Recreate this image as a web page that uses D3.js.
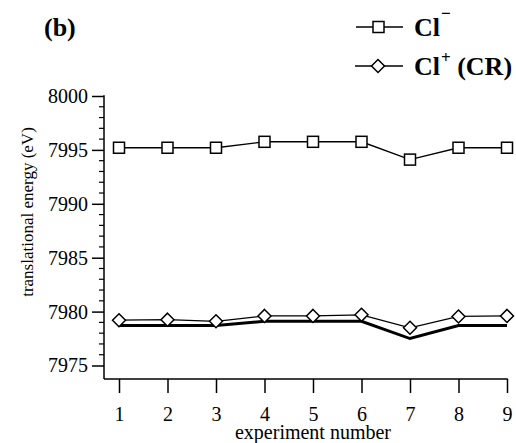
<!DOCTYPE html>
<html>
<head>
<meta charset="utf-8">
<script src="https://cdn.jsdelivr.net/npm/d3@7"></script>
<style>
  html, body { margin: 0; padding: 0; background: #fff; }
  svg { display: block; }
</style>
</head>
<body>
<svg id="chart" width="516" height="443"></svg>
<script>
// Experiment numbers along the x axis
const experiments = [1, 2, 3, 4, 5, 6, 7, 8, 9];
// Translational energy (eV) of the Cl− beam
const clMinus = [7995.2, 7995.2, 7995.2, 7995.75, 7995.75, 7995.75, 7994.1, 7995.2, 7995.2];
// Translational energy (eV) of Cl+ from charge reversal
const clPlusCR = [7979.2, 7979.25, 7979.1, 7979.6, 7979.6, 7979.7, 7978.5, 7979.55, 7979.6];
// Reference curve drawn as a heavy line without markers
const reference = [7978.7, 7978.7, 7978.7, 7979.1, 7979.1, 7979.1, 7977.5, 7978.7, 7978.7];
// Axis ticks
const yMajorTicks = [7975, 7980, 7985, 7990, 7995, 8000];
const yMinorTicks = d3.range(7975, 8001, 1);

const FONT = "Liberation Serif";
const svg = d3.select("#chart");

const x = d3.scaleLinear().domain([1, 9]).range([119, 507]);
const y = d3.scaleLinear().domain([7975, 8000]).range([365.5, 96]);
const axisX = 104, axisY = 379;

// Y axis: major ticks with labels, then minor ticks
const yAxis = d3.axisLeft(y).tickValues(yMajorTicks).tickSize(12).tickPadding(4)
  .tickFormat(d3.format("d"));
const gy = svg.append("g").attr("transform", `translate(${axisX},0)`).call(yAxis)
  .attr("font-family", FONT);
gy.select(".domain").remove();
gy.selectAll(".tick line").attr("stroke", "#000").attr("stroke-width", 1.5);
gy.selectAll(".tick text").attr("font-size", 20).attr("fill", "#000")
  .attr("font-family", FONT);
svg.append("g").selectAll("line").data(yMinorTicks.filter(v => v % 5 !== 0)).join("line")
  .attr("x1", axisX - 5).attr("x2", axisX)
  .attr("y1", d => y(d)).attr("y2", d => y(d))
  .attr("stroke", "#000").attr("stroke-width", 1.2);
svg.append("line").attr("x1", axisX).attr("x2", axisX)
  .attr("y1", y(8000) - 0.75).attr("y2", axisY)
  .attr("stroke", "#000").attr("stroke-width", 1.5);

// X axis with downward ticks
const xAxis = d3.axisBottom(x).tickValues(experiments).tickSize(14).tickPadding(14)
  .tickFormat(d3.format("d"));
const gx = svg.append("g").attr("transform", `translate(0,${axisY})`).call(xAxis)
  .attr("font-family", FONT);
gx.select(".domain").remove();
gx.selectAll(".tick line").attr("stroke", "#000").attr("stroke-width", 1.5);
gx.selectAll(".tick text").attr("font-size", 20).attr("fill", "#000")
  .attr("font-family", FONT);
svg.append("line").attr("x1", axisX).attr("x2", x(9) + 0.75)
  .attr("y1", axisY).attr("y2", axisY)
  .attr("stroke", "#000").attr("stroke-width", 1.5);

// Axis titles
svg.append("text").attr("x", 313).attr("y", 438.5).attr("text-anchor", "middle")
  .attr("font-family", FONT).attr("font-size", 20).text("experiment number");
svg.append("text").attr("transform", "translate(33,212) rotate(-90)")
  .attr("text-anchor", "middle").attr("font-family", FONT).attr("font-size", 17)
  .text("translational energy (eV)");

// Panel label
svg.append("text").attr("x", 44).attr("y", 36).attr("font-family", FONT)
  .attr("font-size", 26).attr("font-weight", "bold").text("(b)");

const line = d3.line().x((d, i) => x(experiments[i])).y(d => y(d));

// Heavy reference line
svg.append("path").datum(reference).attr("d", line)
  .attr("fill", "none").attr("stroke", "#000").attr("stroke-width", 3);

// Cl+ (CR) series with diamonds
svg.append("path").datum(clPlusCR).attr("d", line)
  .attr("fill", "none").attr("stroke", "#000").attr("stroke-width", 1.3);
const diamond = s => `M0,${-s}L${s},0L0,${s}L${-s},0Z`;
svg.append("g").selectAll("path").data(clPlusCR).join("path")
  .attr("transform", (d, i) => `translate(${x(experiments[i])},${y(d)})`)
  .attr("d", diamond(6.5)).attr("fill", "#fff").attr("stroke", "#000").attr("stroke-width", 1.5);

// Cl− series with squares
svg.append("path").datum(clMinus).attr("d", line)
  .attr("fill", "none").attr("stroke", "#000").attr("stroke-width", 1.4);
svg.append("g").selectAll("rect").data(clMinus).join("rect")
  .attr("x", (d, i) => x(experiments[i]) - 5.5).attr("y", d => y(d) - 5.5)
  .attr("width", 11).attr("height", 11)
  .attr("fill", "#fff").attr("stroke", "#000").attr("stroke-width", 1.5);

// Legend
const legend = svg.append("g").attr("font-family", FONT);
legend.append("line").attr("x1", 356).attr("x2", 403).attr("y1", 27).attr("y2", 27)
  .attr("stroke", "#000").attr("stroke-width", 1.4);
legend.append("rect").attr("x", 373).attr("y", 21.5).attr("width", 11).attr("height", 11)
  .attr("fill", "#fff").attr("stroke", "#000").attr("stroke-width", 1.5);
const t1 = legend.append("text").attr("x", 414).attr("y", 36)
  .attr("font-size", 26).attr("font-weight", "bold");
t1.append("tspan").text("Cl");
t1.append("tspan").attr("dx", 1).attr("dy", -17).attr("font-size", 17).text("\u2212");

legend.append("line").attr("x1", 355).attr("x2", 403).attr("y1", 66).attr("y2", 66)
  .attr("stroke", "#000").attr("stroke-width", 1.4);
legend.append("path").attr("transform", "translate(378,66)").attr("d", diamond(6.5))
  .attr("fill", "#fff").attr("stroke", "#000").attr("stroke-width", 1.5);
const t2 = legend.append("text").attr("x", 414).attr("y", 75)
  .attr("font-size", 26).attr("font-weight", "bold");
t2.append("tspan").text("Cl");
t2.append("tspan").attr("dx", 1).attr("dy", -12).attr("font-size", 17).text("+");
t2.append("tspan").attr("dy", 12).text(" (CR)");
</script>
</body>
</html>
